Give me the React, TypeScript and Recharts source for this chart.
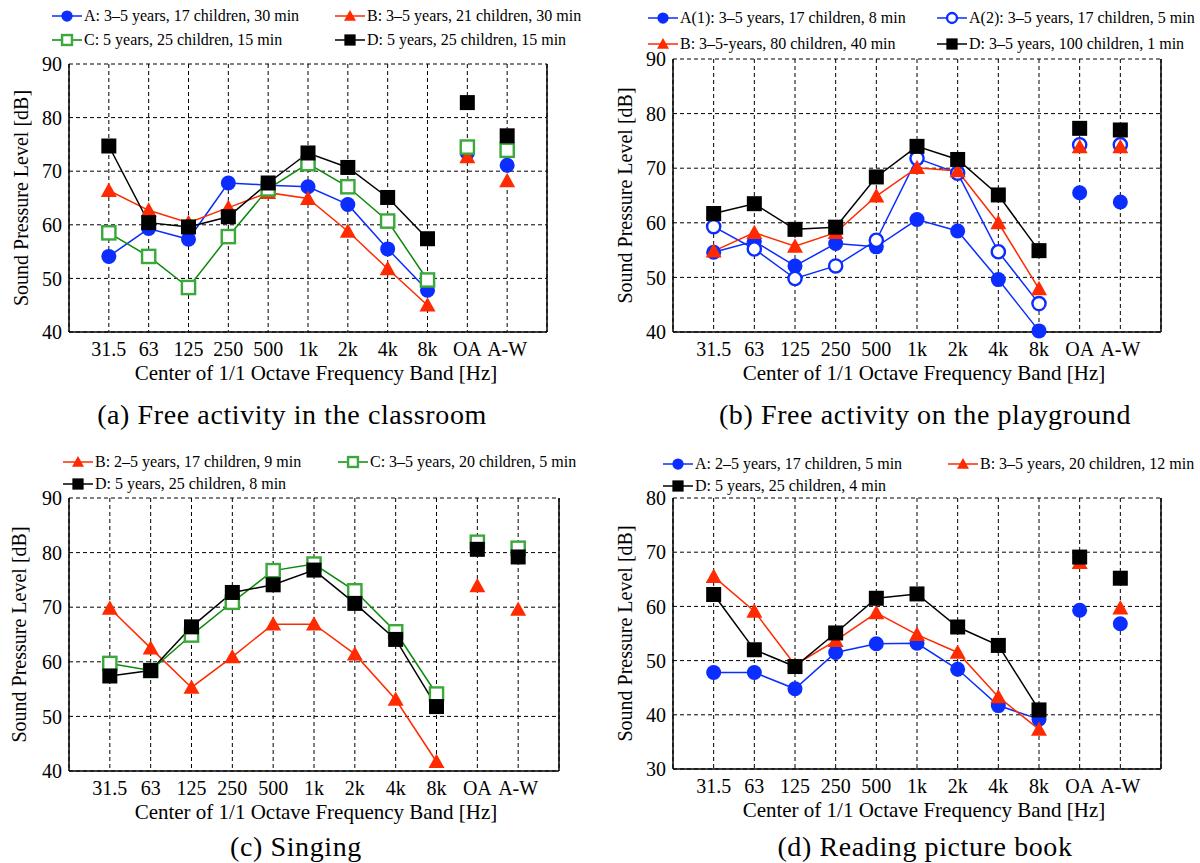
import React from 'react';
import { LineChart, Line, XAxis, YAxis, CartesianGrid, ReferenceLine } from 'recharts';

const SERIF = '"Liberation Serif", "Times New Roman", serif';

const bands = ['31.5', '63', '125', '250', '500', '1k', '2k', '4k', '8k', 'OA', 'A-W'];

// (a) free activity in the classroom
const classA = [54.1, 59.3, 57.3, 67.8, 67.4, 67.1, 63.8, 55.5, 47.8, 73.4, 71.1];
const classB = [66.4, 62.7, 60.4, 63.2, 66.0, 64.9, 58.8, 51.8, 45.0, 72.7, 68.2];
const classC = [58.5, 54.1, 48.3, 57.8, 66.7, 71.4, 67.1, 60.7, 49.7, 74.5, 73.9];
const classD = [74.7, 60.4, 59.6, 61.5, 67.8, 73.4, 70.7, 65.1, 57.4, 82.8, 76.6];

// (b) free activity on the playground
const playA1 = [54.6, 56.6, 52.1, 56.2, 55.6, 60.6, 58.5, 49.6, 40.2, 65.5, 63.8];
const playA2 = [59.3, 55.2, 49.8, 52.1, 56.8, 71.8, 69.1, 54.7, 45.2, 74.3, 74.3];
const playB = [54.8, 58.2, 55.7, 58.2, 64.9, 70.1, 69.5, 60.0, 47.9, 73.9, 73.9];
const playD = [61.7, 63.5, 58.8, 59.2, 68.4, 74.0, 71.6, 65.1, 54.9, 77.3, 77.0];

// (c) singing
const singB = [69.8, 62.5, 55.3, 60.9, 66.9, 66.9, 61.4, 53.1, 41.7, 73.9, 69.6];
const singC = [59.7, 58.4, 64.9, 70.9, 76.7, 77.9, 73.0, 65.5, 54.1, 81.9, 80.8];
const singD = [57.4, 58.4, 66.4, 72.7, 74.1, 76.8, 70.7, 64.1, 51.8, 80.6, 79.2];

// (d) reading picture book
const bookA = [47.8, 47.8, 44.8, 51.5, 53.1, 53.2, 48.4, 41.7, 39.2, 59.3, 56.8];
const bookB = [65.5, 59.1, 49.2, 53.7, 58.8, 54.8, 51.5, 43.3, 37.3, 68.1, 59.7];
const bookD = [62.2, 52.0, 48.9, 55.1, 61.5, 62.3, 56.2, 52.8, 40.9, 69.1, 65.2];

const BLUE = '#0b2dff';
const RED = '#ff2a00';
const GREEN_LINE = '#0a8a0a';
const GREEN_MK = '#3aa83a';
const BLACK = '#000';

type Kind = 'dot' | 'ring' | 'tri' | 'sq' | 'box';

interface Series {
  key: string;
  name: string;
  kind: Kind;
  color: string;
  line: string;
  values: number[];
}

const Marker = ({ cx, cy, kind, color, s = 1 }: { cx: number; cy: number; kind: Kind; color: string; s?: number }) => {
  if (kind === 'dot') return <circle cx={cx} cy={cy} r={7.5 * s} fill={color} />;
  if (kind === 'ring') return <circle cx={cx} cy={cy} r={6.6 * s} fill="#fff" stroke={color} strokeWidth={2.4} />;
  if (kind === 'sq') return <rect x={cx - 7.5 * s} y={cy - 7.5 * s} width={15 * s} height={15 * s} fill={color} />;
  if (kind === 'box')
    return <rect x={cx - 6.6 * s} y={cy - 6.6 * s} width={13.2 * s} height={13.2 * s} fill="#fff" stroke={color} strokeWidth={2.4} />;
  const h = 8 * s;
  return <polygon points={`${cx},${cy - h} ${cx - h},${cy + h * 0.8} ${cx + h},${cy + h * 0.8}`} fill={color} />;
};

const rowsFor = (series: Series[]) =>
  bands.map((b, i) => {
    const r: any = { x: i + 1, band: b };
    series.forEach((s) => {
      r[s.key] = i < 9 ? s.values[i] : null;
      r[s.key + '_lv'] = i >= 9 ? s.values[i] : null;
    });
    return r;
  });

const xTicks = bands.map((_, i) => i + 1);

interface PanelProps {
  left: number;
  top: number;
  width: number;
  height: number;
  yAxisW: number;
  marginTop: number;
  marginRight: number;
  yDomain: [number, number];
  labelX: number;
  titleDx: number;
  series: Series[];
  legend: { x: number; y: number }[];
  caption: string;
  captionX: number;
  captionY: number;
}

function Panel(p: PanelProps) {
  const data = rowsFor(p.series);
  const yTicks: number[] = [];
  for (let v = p.yDomain[0]; v <= p.yDomain[1]; v += 10) yTicks.push(v);
  const dotFor = (s: Series) => (d: any) => {
    if (d.value == null || d.cy == null) return <g key={`${s.key}-${d.index}`} />;
    return <Marker key={`${s.key}-${d.index}`} cx={d.cx} cy={d.cy} kind={s.kind} color={s.color} />;
  };
  return (
    <>
      <div style={{ position: 'absolute', left: p.left, top: p.top }}>
        <LineChart
          width={p.width}
          height={p.height}
          data={data}
          margin={{ top: p.marginTop, right: p.marginRight, left: 0, bottom: 0 }}
        >
          <CartesianGrid stroke="#000" strokeDasharray="4 3" strokeWidth={1} />
          <XAxis
            dataKey="x"
            type="number"
            domain={[0, 12]}
            ticks={xTicks}
            interval={0}
            height={60}
            tickFormatter={(v: number) => bands[v - 1]}
            tick={{ fill: '#000', fontSize: 20, fontFamily: SERIF }}
            tickLine={false}
            tickMargin={4}
            axisLine={{ stroke: '#000', strokeWidth: 1.5 }}
            label={(lp: any) => {
              const vb = lp.viewBox;
              return (
                <text
                  x={vb.x + vb.width / 2 + p.titleDx}
                  y={vb.y + 41}
                  textAnchor="middle"
                  dominantBaseline="central"
                  fontSize={21}
                  fontFamily={SERIF}
                  fill="#000"
                >
                  Center of 1/1 Octave Frequency Band [Hz]
                </text>
              );
            }}
          />
          <YAxis
            type="number"
            domain={p.yDomain}
            ticks={yTicks}
            width={p.yAxisW}
            tick={{ fill: '#000', fontSize: 20, fontFamily: SERIF }}
            tickLine={false}
            tickMargin={1}
            axisLine={{ stroke: '#000', strokeWidth: 1.5 }}
            label={(lp: any) => {
              const vb = lp.viewBox;
              const cy = vb.y + vb.height / 2;
              return (
                <text
                  x={p.labelX}
                  y={cy}
                  transform={`rotate(-90 ${p.labelX} ${cy})`}
                  textAnchor="middle"
                  dominantBaseline="central"
                  fontSize={20}
                  fontFamily={SERIF}
                  fill="#000"
                >
                  Sound Pressure Level [dB]
                </text>
              );
            }}
          />
          <ReferenceLine x={12} stroke="#000" strokeWidth={1.5} />
          {p.series.map((s) => [
            <Line
              key={s.key}
              dataKey={s.key}
              type="linear"
              stroke={s.line}
              strokeWidth={1.5}
              dot={dotFor(s)}
              activeDot={false}
              isAnimationActive={false}
            />,
            <Line
              key={s.key + '_lv'}
              dataKey={s.key + '_lv'}
              type="linear"
              stroke="none"
              dot={dotFor(s)}
              activeDot={false}
              isAnimationActive={false}
            />,
          ])}
        </LineChart>
      </div>
      {p.series.map((s, i) => {
        const pos = p.legend[i];
        return (
          <div key={'lg' + s.key} style={{ position: 'absolute', left: pos.x, top: pos.y - 11, height: 22, display: 'flex', alignItems: 'center', whiteSpace: 'nowrap' }}>
            <svg width={30} height={22} style={{ marginRight: 2 }}>
              <line x1={0} y1={11} x2={30} y2={11} stroke={s.line} strokeWidth={1.5} />
              <Marker cx={15} cy={11} kind={s.kind} color={s.color} s={0.75} />
            </svg>
            <span style={{ fontFamily: SERIF, fontSize: 16, color: '#000' }}>{s.name}</span>
          </div>
        );
      })}
      <div
        style={{
          position: 'absolute',
          left: p.captionX - 300,
          top: p.captionY - 17,
          width: 600,
          lineHeight: '34px',
          textAlign: 'center',
          fontFamily: SERIF,
          fontSize: 28,
          letterSpacing: 0.6,
          color: '#000',
        }}
      >
        {p.caption}
      </div>
    </>
  );
}

const panelA: Series[] = [
  { key: 'A', name: 'A: 3\u20135 years, 17 children, 30 min', kind: 'dot', color: BLUE, line: BLUE, values: classA },
  { key: 'B', name: 'B: 3\u20135 years, 21 children, 30 min', kind: 'tri', color: RED, line: RED, values: classB },
  { key: 'C', name: 'C: 5 years, 25 children, 15 min', kind: 'box', color: GREEN_MK, line: GREEN_LINE, values: classC },
  { key: 'D', name: 'D: 5 years, 25 children, 15 min', kind: 'sq', color: BLACK, line: BLACK, values: classD },
];

const panelB: Series[] = [
  { key: 'A1', name: 'A(1): 3\u20135 years, 17 children, 8 min', kind: 'dot', color: BLUE, line: BLUE, values: playA1 },
  { key: 'A2', name: 'A(2): 3\u20135 years, 17 children, 5 min', kind: 'ring', color: BLUE, line: BLUE, values: playA2 },
  { key: 'B', name: 'B: 3\u20135-years, 80 children, 40 min', kind: 'tri', color: RED, line: RED, values: playB },
  { key: 'D', name: 'D: 3\u20135 years, 100 children, 1 min', kind: 'sq', color: BLACK, line: BLACK, values: playD },
];

const panelC: Series[] = [
  { key: 'B', name: 'B: 2\u20135 years, 17 children, 9 min', kind: 'tri', color: RED, line: RED, values: singB },
  { key: 'C', name: 'C: 3\u20135 years, 20 children, 5 min', kind: 'box', color: GREEN_MK, line: GREEN_LINE, values: singC },
  { key: 'D', name: 'D: 5 years, 25 children, 8 min', kind: 'sq', color: BLACK, line: BLACK, values: singD },
];

const panelD: Series[] = [
  { key: 'A', name: 'A: 2\u20135 years, 17 children, 5 min', kind: 'dot', color: BLUE, line: BLUE, values: bookA },
  { key: 'B', name: 'B: 3\u20135 years, 20 children, 12 min', kind: 'tri', color: RED, line: RED, values: bookB },
  { key: 'D', name: 'D: 5 years, 25 children, 4 min', kind: 'sq', color: BLACK, line: BLACK, values: bookD },
];

export default function App() {
  return (
    <div style={{ position: 'absolute', left: 0, top: 0, width: 1200, height: 863, background: '#fff', overflow: 'hidden' }}>
      <Panel
        left={0} top={0} width={560} height={392} yAxisW={69} marginTop={64} marginRight={13}
        yDomain={[40, 90]} labelX={21} titleDx={8} series={panelA}
        legend={[{ x: 52, y: 16 }, { x: 335, y: 16 }, { x: 52, y: 40 }, { x: 335, y: 40 }]}
        caption="(a) Free activity in the classroom" captionX={292} captionY={415}
      />
      <Panel
        left={600} top={0} width={570} height={392} yAxisW={73} marginTop={59} marginRight={9}
        yDomain={[40, 90]} labelX={25} titleDx={7} series={panelB}
        legend={[{ x: 648, y: 18 }, { x: 937, y: 18 }, { x: 648, y: 44 }, { x: 937, y: 44 }]}
        caption="(b) Free activity on the playground" captionX={925} captionY={415}
      />
      <Panel
        left={0} top={430} width={570} height={401} yAxisW={69} marginTop={68} marginRight={11}
        yDomain={[40, 90]} labelX={19} titleDx={2} series={panelC}
        legend={[{ x: 63, y: 462 }, { x: 338, y: 462 }, { x: 63, y: 484 }]}
        caption="(c) Singing" captionX={296} captionY={847}
      />
      <Panel
        left={600} top={430} width={570} height={399} yAxisW={73} marginTop={68} marginRight={9}
        yDomain={[30, 80]} labelX={25} titleDx={7} series={panelD}
        legend={[{ x: 663, y: 464 }, { x: 948, y: 464 }, { x: 663, y: 486 }]}
        caption="(d) Reading picture book" captionX={925} captionY={847}
      />
    </div>
  );
}
